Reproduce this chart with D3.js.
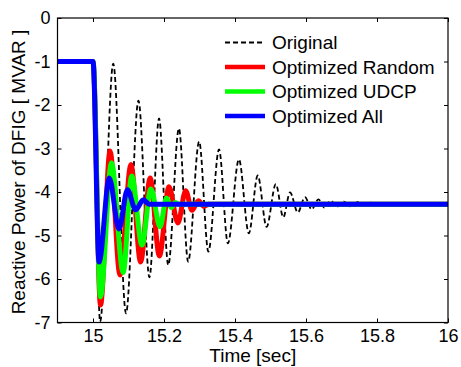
<!DOCTYPE html>
<html>
<head>
<meta charset="utf-8">
<script src="https://cdn.jsdelivr.net/npm/d3@7"></script>
<style>
body { margin: 0; background: #fff; }
text { font-family: Arial, "Liberation Sans", sans-serif; }
</style>
</head>
<body>
<div id="chart"></div>
<script>
// data (time in sec, reactive power in MVAR)
var xTicks = [15, 15.2, 15.4, 15.6, 15.8, 16];
var yTicks = [0, -1, -2, -3, -4, -5, -6, -7];
var legendLabels = ["Original", "Optimized Random", "Optimized UDCP", "Optimized All"];

var originalT = [14.9, 15.0, 15.020, 15.057, 15.093, 15.128, 15.159, 15.186, 15.212, 15.242, 15.268, 15.299,
	15.325, 15.355, 15.380, 15.411, 15.439, 15.464, 15.489, 15.515, 15.536, 15.555, 15.577, 15.597, 15.616,
	15.635, 15.652, 15.670, 15.687, 15.707, 15.724, 15.744, 15.761, 15.780, 15.797, 15.814, 16];
var originalV = [-1, -1, -6.98, -1.05, -6.79, -1.90, -5.96, -2.31, -5.68, -2.54, -5.60, -2.84,
	-5.37, -3.02, -5.18, -3.25, -4.95, -3.62, -4.80, -3.82, -4.58, -4.01, -4.47, -4.12, -4.40,
	-4.17, -4.36, -4.20, -4.34, -4.22, -4.33, -4.23, -4.32, -4.24, -4.31, -4.28, -4.28];

var randomT = [14.9, 15.0, 15.021, 15.048, 15.076, 15.107, 15.134, 15.161, 15.187, 15.214, 15.239, 15.261,
	15.279, 15.297, 15.313, 15.327, 16];
var randomV = [-1, -1, -6.60, -3.06, -5.91, -3.37, -5.61, -3.68, -5.47, -3.88, -4.71, -3.97,
	-4.42, -4.20, -4.33, -4.28, -4.28];

var udcpT = [14.9, 15.0, 15.021, 15.052, 15.085, 15.109, 15.138, 15.163, 15.189, 15.207, 15.221, 15.231, 15.242, 16];
var udcpV = [-1, -1, -6.41, -3.33, -5.85, -3.63, -5.22, -3.93, -4.80, -4.14, -4.36, -4.24, -4.28, -4.28];

var allT = [14.9, 15.0, 15.017, 15.046, 15.073, 15.097, 15.120, 15.142, 15.158, 16];
var allV = [-1, -1, -5.61, -3.68, -4.85, -3.95, -4.41, -4.18, -4.28, -4.28];

var width = 461, height = 367;
var margin = {top: 18, right: 13, bottom: 44.5, left: 57.5};
var plotW = width - margin.left - margin.right,
	plotH = height - margin.top - margin.bottom;

var svg = d3.select("#chart")
	.append("svg")
	.attr("width", width)
	.attr("height", height);

var g = svg.append("g")
	.attr("transform", "translate(" + margin.left + "," + margin.top + ")");

var xscale = d3.scaleLinear().domain([14.9, 16]).range([0, plotW]);
var yscale = d3.scaleLinear().domain([-7, 0]).range([plotH, 0]);

g.append("clipPath").attr("id", "clip")
	.append("rect").attr("width", plotW).attr("height", plotH);

// plain hyphen minus, like the original figure
function plain(d) { return String(d); }

// axes, MATLAB style ticks pointing inward on all sides
function styleAxis(sel) {
	sel.select(".domain").remove();
	sel.selectAll("line").attr("stroke", "#000");
	sel.selectAll("text").attr("fill", "#000")
		.style("font-size", "18px")
		.style("font-family", "Arial, 'Liberation Sans', sans-serif");
}

g.append("g")
	.attr("transform", "translate(0," + plotH + ")")
	.call(d3.axisBottom(xscale).tickValues(xTicks).tickSize(-4).tickPadding(7).tickFormat(plain))
	.call(styleAxis);
g.append("g")
	.call(d3.axisTop(xscale).tickValues(xTicks).tickSize(-4).tickFormat(""))
	.call(styleAxis);
g.append("g")
	.call(d3.axisLeft(yscale).tickValues(yTicks).tickSize(-4).tickPadding(7).tickFormat(plain))
	.call(styleAxis);
g.append("g")
	.attr("transform", "translate(" + plotW + ",0)")
	.call(d3.axisRight(yscale).tickValues(yTicks).tickSize(-4).tickFormat(""))
	.call(styleAxis);

var series = [
	{t: originalT, v: originalV, color: "#000", w: 1.8, dash: "5,3"},
	{t: randomT, v: randomV, color: "#ff0000", w: 5, dash: null},
	{t: udcpT, v: udcpV, color: "#00ff00", w: 5, dash: null},
	{t: allT, v: allV, color: "#0000ff", w: 5, dash: null}
];

var line = d3.line()
	.x(function(d){ return xscale(d[0]); })
	.y(function(d){ return yscale(d[1]); })
	.curve(d3.curveMonotoneX);

var lines = g.append("g").attr("clip-path", "url(#clip)");
series.forEach(function(s){
	lines.append("path")
		.datum(d3.zip(s.t, s.v))
		.attr("d", line)
		.attr("fill", "none")
		.attr("stroke", s.color)
		.attr("stroke-width", s.w)
		.attr("stroke-dasharray", s.dash)
		.attr("stroke-linejoin", "round");
});

// box
g.append("rect")
	.attr("width", plotW).attr("height", plotH)
	.attr("fill", "none").attr("stroke", "#000").attr("stroke-width", 1.2);

// legend (no frame)
var legend = svg.append("g");
legendLabels.forEach(function(label, i){
	var y = 42.5 + i * 24.5;
	var s = series[i];
	legend.append("line")
		.attr("x1", 225).attr("x2", 265)
		.attr("y1", y).attr("y2", y)
		.attr("stroke", s.color)
		.attr("stroke-width", s.dash ? 1.8 : 4.5)
		.attr("stroke-dasharray", s.dash);
	legend.append("text")
		.attr("x", 272).attr("y", y + 6.5)
		.style("font-size", "19px")
		.text(label);
});

// axis labels
svg.append("text")
	.attr("x", margin.left + xscale(15.45)).attr("y", 362)
	.attr("text-anchor", "middle")
	.style("font-size", "19px")
	.text("Time [sec]");

svg.append("text")
	.attr("transform", "translate(25,172) rotate(-90)")
	.attr("text-anchor", "middle")
	.style("font-size", "19px")
	.text("Reactive Power of DFIG [ MVAR ]");
</script>
</body>
</html>
